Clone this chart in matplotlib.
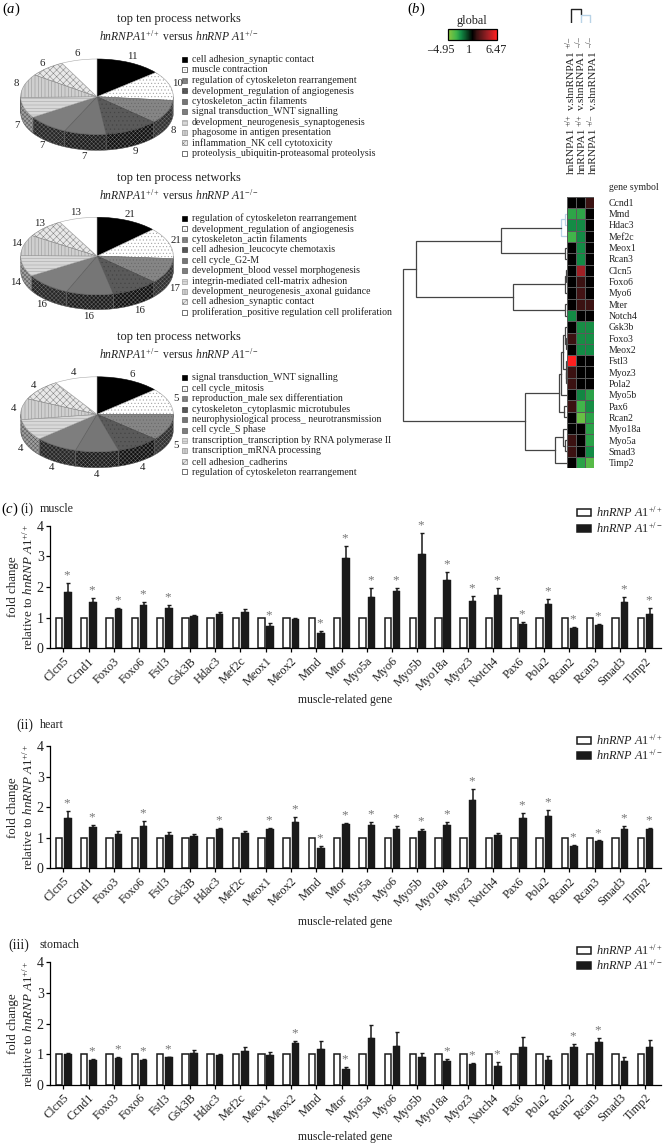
# -*- coding:utf8 -*-
import matplotlib
matplotlib.use("Agg")
import matplotlib.pyplot as plt
import numpy as np
from matplotlib.cm import ScalarMappable
from matplotlib.colors import LinearSegmentedColormap, TwoSlopeNorm
from matplotlib.patches import Polygon, Rectangle

W, H = 666, 1143

# pies
pie_values = [
    [11, 10, 8, 9, 7, 7, 7, 8, 6, 6],
    [21, 21, 17, 16, 16, 16, 14, 14, 13, 13],
    [6, 5, 5, 4, 4, 4, 4, 4, 4, 4],
]
pie_legends = [
    ["cell adhesion_synaptic contact", "muscle contraction",
     "regulation of cytoskeleton rearrangement", "development_regulation of angiogenesis",
     "cytoskeleton_actin filaments", "signal transduction_WNT signalling",
     "development_neurogenesis_synaptogenesis", "phagosome in antigen presentation",
     "inflammation_NK cell cytotoxicity", "proteolysis_ubiquitin-proteasomal proteolysis"],
    ["regulation of cytoskeleton rearrangement", "development_regulation of angiogenesis",
     "cytoskeleton_actin filaments", "cell adhesion_leucocyte chemotaxis",
     "cell cycle_G2-M", "development_blood vessel morphogenesis",
     "integrin-mediated cell-matrix adhesion", "development_neurogenesis_axonal guidance",
     "cell adhesion_synaptic contact", "proliferation_positive regulation cell proliferation"],
    ["signal transduction_WNT signalling", "cell cycle_mitosis",
     "reproduction_male sex differentiation", "cytoskeleton_cytoplasmic microtubules",
     "neurophysiological process_ neurotransmission", "cell cycle_S phase",
     "transcription_transcription by RNA polymerase II", "transcription_mRNA processing",
     "cell adhesion_cadherins", "regulation of cytoskeleton rearrangement"],
]
pie_titles = [
    r"$\it{hnRNPA1}^{+/+}$ versus $\it{hnRNP\ A1}^{+/-}$",
    r"$\it{hnRNPA1}^{+/+}$ versus $\it{hnRNP\ A1}^{-/-}$",
    r"$\it{hnRNPA1}^{+/-}$ versus $\it{hnRNP\ A1}^{-/-}$",
]
pie_colors = ["#000000", "#ffffff", "#858585", "#5a5a5a", "#767676",
              "#7e7e7e", "#d8d8d8", "#cfcfcf", "#e8e8e8", "#ffffff"]
pie_hatches = [None, ".....", ".....", "....", None, None, "-----", "|||||", "xxxxx", None]
pie_edges = ["#000000", "#9a9a9a", "#666666", "#444444", "#5a5a5a",
             "#5a5a5a", "#a0a0a0", "#909090", "#808080", "#aaaaaa"]
side_colors = ["#111111", "#eeeeee", "#303030", "#101010", "#1c1c1c",
               "#262626", "#a0a0a0", "#bbbbbb", "#cccccc", "#eeeeee"]

# heat map
heat_genes = ["Ccnd1", "Mmd", "Hdac3", "Mef2c", "Meox1", "Rcan3", "Clcn5", "Foxo6",
              "Myo6", "Mter", "Notch4", "Gsk3b", "Foxo3", "Meox2", "Fstl3", "Myoz3",
              "Pola2", "Myo5b", "Pax6", "Rcan2", "Myo18a", "Myo5a", "Smad3", "Timp2"]
heat_col1 = [1, -2.5, -1.8, -3, 1, 1, 1, 1, 1, 1, -1.8, 1,
             2, 1, 6.47, 2, 2, 1, 2, 1, 1, 2, 2, 1]
heat_col2 = [1, -2.5, -1.8, -1.8, -1.8, -1.8, 4.5, 2, 2.2, 2, 1, -1.9,
             -1.9, -1.8, 1, 1, 1, -1.7, -3, -4, 1, 1, 1, -2.4]
heat_col3 = [2, 1, 1, 1, 1, 1, 1, 1, 1, 2, 1, -1.9,
             -1.9, -1.8, 1, 1, 1, -2.4, -1.9, -2.4, -2.4, -2.4, -1.8, -3.6]
heat_col_sup = [("+/+", "+/\u2013"), ("+/+", "\u2013/\u2013"), ("+/\u2013", "\u2013/\u2013")]

# row tree: (distance, child, child), a plain number is a row of the heat map
tree_blue = (5.4, (1.5, 1, 2), 3)
tree_a1 = (66, tree_blue, (2, 4, 5))
tree_a2 = (54, (1.5, (1, 6, 7), 8), (1.5, 9, 10))
tree_b1a = (5.5, (3.5, (1.5, 11, (1, 12, 13)), (1.2, 14, (0.8, 15, 16))), 17)
tree_b1 = (7.4, tree_b1a, (2.5, 18, 19))
tree_b2 = (11.7, (3.5, 20, (2, 21, 22)), 23)
tree_root = (164, (150.7, tree_a1, tree_a2), (41.7, tree_b1, tree_b2))

# bars
genes = ["Clcn5", "Ccnd1", "Foxo3", "Foxo6", "Fstl3", "Gsk3B", "Hdac3", "Mef2c",
         "Meox1", "Meox2", "Mmd", "Mtor", "Myo5a", "Myo6", "Myo5b", "Myo18a",
         "Myoz3", "Notch4", "Pax6", "Pola2", "Rcan2", "Rcan3", "Smad3", "Timp2"]
control = [1.0] * 24

muscle_val = [1.85, 1.5, 1.28, 1.4, 1.33, 1.05, 1.12, 1.18, 0.72, 0.95, 0.5, 2.93,
              1.68, 1.86, 3.07, 2.23, 1.55, 1.74, 0.78, 1.43, 0.67, 0.75, 1.52, 1.12]
muscle_top = [2.12, 1.65, 1.33, 1.5, 1.42, 1.1, 1.18, 1.28, 0.82, 1.0, 0.58, 3.35,
              1.96, 1.96, 3.75, 2.5, 1.7, 1.98, 0.87, 1.6, 0.7, 0.78, 1.66, 1.3]
muscle_star = [1, 1, 1, 1, 1, 0, 0, 0, 1, 0, 1, 1, 1, 1, 1, 1, 1, 1, 1, 1, 1, 1, 1, 1]

heart_val = [1.66, 1.34, 1.12, 1.39, 1.08, 1.05, 1.27, 1.15, 1.29, 1.52, 0.65, 1.46,
             1.43, 1.28, 1.22, 1.41, 2.25, 1.08, 1.63, 1.7, 0.74, 0.89, 1.29, 1.3]
heart_top = [1.87, 1.41, 1.22, 1.55, 1.2, 1.13, 1.32, 1.23, 1.32, 1.67, 0.74, 1.49,
             1.51, 1.37, 1.29, 1.53, 2.6, 1.15, 1.82, 1.92, 0.76, 0.91, 1.37, 1.32]
heart_star = [1, 1, 0, 1, 0, 0, 1, 0, 1, 1, 1, 1, 1, 1, 1, 1, 1, 0, 1, 1, 1, 1, 1, 1]

stomach_val = [1.02, 0.8, 0.87, 0.8, 0.9, 1.05, 0.99, 1.12, 0.98, 1.36, 1.16, 0.52,
               1.52, 1.26, 0.91, 0.78, 0.68, 0.62, 1.24, 0.82, 1.25, 1.4, 0.79, 1.24]
stomach_top = [1.04, 0.85, 0.91, 0.84, 0.92, 1.14, 1.01, 1.23, 1.09, 1.43, 1.43, 0.6,
               1.95, 1.74, 1.03, 0.86, 0.73, 0.76, 1.58, 0.93, 1.34, 1.54, 0.9, 1.47]
stomach_star = [0, 1, 1, 1, 1, 0, 0, 0, 0, 1, 0, 1, 0, 0, 0, 1, 1, 1, 0, 0, 1, 1, 0, 0]

bar_yticks = [0, 1, 2, 3, 4]
bar_ylabel = r"relative to $\it{hnRNP\ A1}^{+/+}$"
legend_wt = r"$\it{hnRNP\ A1}^{+/+}$"
legend_het = r"$\it{hnRNP\ A1}^{+/-}$"


def px_axes(fig, x0, y0, x1, y1):
    # box given in picture pixels, y going down
    return fig.add_axes([x0 / W, 1 - y1 / H, (x1 - x0) / W, (y1 - y0) / H])


def draw_pie(fig, ov, cx, cy, rx, ry, depth, values, title_y, title, legend, leg_y):
    d = depth / ry
    ax = px_axes(fig, cx - rx, cy - ry, cx + rx, cy + ry + depth)
    wedges = ax.pie(values, startangle=90, counterclock=False, colors=pie_colors, hatch=pie_hatches,
                    wedgeprops=dict(linewidth=0.4), radius=1)[0]
    for w, col in zip(wedges, pie_edges):
        w.set_edgecolor(col)
        w.set_clip_on(False)
    ax.set_aspect("auto")
    ax.set_xlim(-1, 1)
    ax.set_ylim(-1 - d, 1)

    total = sum(values)
    t0 = 0.0
    for i, v in enumerate(values):
        t1 = t0 + 360.0 * v / total
        # side wall, only the part on the lower half of the ellipse
        lo, hi = max(t0, 90), min(t1, 270)
        if hi > lo:
            t = np.radians(np.linspace(lo, hi, 40))
            xs, ys = np.sin(t), np.cos(t)
            pts = np.r_[np.c_[xs, ys], np.c_[xs[::-1], ys[::-1] - d]]
            hatch_col = "#6a6a6a" if i < 6 else "#555555"
            ax.add_patch(Polygon(pts, closed=True, facecolor=side_colors[i], edgecolor=hatch_col,
                                 hatch="xxxxxxxx", linewidth=0.3, zorder=0.5, clip_on=False))
        mid = np.radians((t0 + t1) / 2)
        lx = cx + rx * 1.1 * np.sin(mid)
        ly = cy - ry * 1.17 * np.cos(mid)
        if np.cos(mid) < 0:
            ly += depth
        ov.text(lx, ly, str(v), ha="center", va="center", fontsize=7.8, color="#222222")
        t0 = t1

    ov.text(178.5, title_y, "top ten process networks", ha="center", va="center", fontsize=9,
            color="#222222")
    ov.text(178.5, title_y + 17, title, ha="center", va="center", fontsize=8.4, color="#222222")
    for i, name in enumerate(legend):
        y = leg_y + i * 10.46
        ov.add_patch(Rectangle((181.7, y - 2.5), 5, 5, facecolor=pie_colors[i], edgecolor=pie_edges[i],
                               hatch=pie_hatches[i], linewidth=0.5))
        if pie_colors[i] == "#ffffff":
            ov.add_patch(Rectangle((181.7, y - 2.5), 5, 5, fill=False, edgecolor="#555555", linewidth=0.5))
        ov.text(192, y, name, ha="left", va="center", fontsize=7.1, color="#222222")


def draw_tree(ax, node, color="#444444"):
    # returns (distance, row) of this node
    if not isinstance(node, tuple):
        return 0.0, float(node)
    dist, left, right = node
    if node is tree_blue:
        color = "#b9d3e6"
    d1, y1 = draw_tree(ax, left, color)
    d2, y2 = draw_tree(ax, right, color)
    ax.plot([d1, dist, dist, d2], [y1, y1, y2, y2], color=color, lw=0.9, solid_joinstyle="miter")
    return dist, (y1 + y2) / 2


def draw_bars(fig, ov, y_top, y_bottom, val, top, star, name, name_y, lab_x, xlab_y,
              leg_y1, leg_y2):
    ax = px_axes(fig, 50, y_top, 661, y_bottom)
    pitch = 25.3
    x = np.arange(len(genes))
    val = np.array(val)
    top = np.array(top)
    ax.bar(x - 0.17, control, 0.26, color="white", edgecolor="#1a1a1a", linewidth=1.1)
    ax.bar(x + 0.18, val, 0.3, color="#1a1a1a", edgecolor="#1a1a1a", linewidth=0.3)
    ax.errorbar(x + 0.18, val, yerr=[np.zeros(len(x)), top - val], fmt="none", ecolor="#1a1a1a",
                elinewidth=1.1, capsize=1.5, capthick=1)
    for i in x:
        if star[i]:
            ax.text(i + 0.14, top[i] + 0.25, "*", ha="center", va="center", fontsize=9.5,
                    color="#777777")
    ax.set_xlim((50 - 63.2) / pitch, (661 - 63.2) / pitch)
    ax.set_ylim(0, 4)
    ax.set_xticks(x)
    ax.set_xticklabels(genes, rotation=45, ha="right", rotation_mode="anchor", fontsize=8.8,
                       color="#222222")
    ax.set_yticks(bar_yticks)
    ax.tick_params(axis="y", labelsize=10, length=3, width=0.9, pad=1.5, labelcolor="#222222")
    ax.tick_params(axis="x", length=3, width=0.9, pad=2)
    ax.patch.set_alpha(0)
    for s in ["top", "right"]:
        ax.spines[s].set_visible(False)
    for s in ["left", "bottom"]:
        ax.spines[s].set_linewidth(0.9)

    ymid = (y_top + y_bottom) / 2
    ov.text(13, ymid, "fold change", rotation=90, ha="center", va="center", fontsize=9.4,
            color="#222222")
    ov.text(28, ymid, bar_ylabel, rotation=90, ha="center", va="center", fontsize=9.4,
            color="#222222")
    ov.text(lab_x, name_y, name[0], ha="left", va="center", fontsize=10, color="#222222")
    ov.text(40, name_y, name[1], ha="left", va="center", fontsize=8.6, color="#222222")
    ov.text(345, xlab_y, "muscle-related gene", ha="center", va="center", fontsize=8.5,
            color="#222222")
    ov.add_patch(Rectangle((576.5, leg_y1 - 3.5), 14, 7, facecolor="white", edgecolor="#1a1a1a",
                           linewidth=1.1))
    ov.add_patch(Rectangle((576.5, leg_y2 - 3.5), 14, 7, facecolor="#1a1a1a", edgecolor="#1a1a1a",
                           linewidth=1.1))
    ov.text(596, leg_y1, legend_wt, ha="left", va="center", fontsize=8.8, color="#222222")
    ov.text(596, leg_y2, legend_het, ha="left", va="center", fontsize=8.8, color="#222222")


def main():
    plt.rcParams["font.family"] = ["Liberation Serif", "DejaVu Serif"]
    plt.rcParams["mathtext.fontset"] = "custom"
    plt.rcParams["mathtext.rm"] = "Liberation Serif"
    plt.rcParams["mathtext.it"] = "Liberation Serif:italic"
    plt.rcParams["mathtext.bf"] = "Liberation Serif:bold"
    plt.rcParams["hatch.linewidth"] = 0.35

    fig = plt.figure(figsize=(W / 100, H / 100), dpi=100, facecolor="white")
    # whole picture in pixels, for the loose text
    ov = fig.add_axes([0, 0, 1, 1], zorder=5)
    ov.set_xlim(0, W)
    ov.set_ylim(H, 0)
    ov.axis("off")

    ov.text(2, 9.5, r"($\it{a}$)", ha="left", va="center", fontsize=10.5)
    ov.text(407, 9, r"($\it{b}$)", ha="left", va="center", fontsize=10.5)
    ov.text(1, 509, r"($\it{c}$)", ha="left", va="center", fontsize=10.5)

    draw_pie(fig, ov, 97, 96.7, 76.3, 37.7, 16, pie_values[0], 19, pie_titles[0], pie_legends[0], 59.3)
    draw_pie(fig, ov, 97, 256, 76.3, 38.7, 15, pie_values[1], 178.3, pie_titles[1], pie_legends[1], 218.3)
    draw_pie(fig, ov, 97, 414.3, 76.3, 37.5, 16, pie_values[2], 337, pie_titles[2], pie_legends[2], 377.7)

    # heat map
    nodes = [(0.0, "#8cc63f"), (0.164, "#40b54a"), (0.265, "#128a45"), (0.38, "#0a4a24"),
             (0.5, "#000000"), (0.591, "#3a1212"), (0.82, "#a02025"), (1.0, "#ff2020")]
    cmap = LinearSegmentedColormap.from_list("global", nodes)
    norm = TwoSlopeNorm(vmin=-4.95, vcenter=1, vmax=6.47)

    heat = np.array([heat_col1, heat_col2, heat_col3]).T
    ax = px_axes(fig, 566.7, 196.7, 594.3, 468.3)
    ax.pcolormesh(np.arange(4), np.arange(25), heat, cmap=cmap, norm=norm,
                  edgecolors="#5a5a5a", linewidth=0.5)
    ax.set_ylim(24, 0)
    ax.set_xticks([])
    ax.yaxis.tick_right()
    ax.set_yticks(np.arange(24) + 0.5)
    ax.set_yticklabels(heat_genes, fontsize=7, color="#222222")
    ax.tick_params(axis="y", length=0, pad=10.2)
    for s in ax.spines.values():
        s.set_visible(False)
    ov.text(608.7, 188, "gene symbol", ha="left", va="center", fontsize=7, color="#222222")

    # row tree shares the rows of the heat map
    tr = px_axes(fig, 400, 196.7, 566.7, 468.3)
    # plain row numbers are row centres
    draw_tree(tr, tree_root)
    tr.set_xlim(166.7, 0)
    tr.set_ylim(23.5, -0.5)
    tr.axis("off")

    # column tree
    ct = px_axes(fig, 566.7, 5, 594.3, 22.7)
    ct.plot([0.5, 0.5, 1.5, 1.5], [0, 13.4, 13.4, 8.6], color="#222222", lw=1.0)
    ct.plot([1.5, 1.5, 2.5, 2.5], [0, 8, 8, 0], color="#b9d3e6", lw=1.0)
    ct.set_xlim(0, 3)
    ct.set_ylim(0, 17.7)
    ct.axis("off")
    # column names set piece by piece, so the raised parts stay clear of the next column
    for i, sup in enumerate(heat_col_sup):
        x = 571 + 11 * i
        ov.text(x, 174.5, "hnRNPA1", rotation=90, ha="center", va="bottom", fontsize=8.2, color="#222222")
        ov.text(x - 2.5, 125.5, sup[0], rotation=90, ha="center", va="bottom", fontsize=6, color="#222222")
        ov.text(x, 110.5, "v.shnRNPA1", rotation=90, ha="center", va="bottom", fontsize=8.2, color="#222222")
        ov.text(x - 2.5, 47.5, sup[1], rotation=90, ha="center", va="bottom", fontsize=6, color="#222222")

    # colour key
    cax = px_axes(fig, 448.3, 29, 496.7, 40)
    cb = fig.colorbar(ScalarMappable(norm=norm, cmap=cmap), cax=cax, orientation="horizontal")
    cb.set_ticks([])
    cb.minorticks_off()
    cb.outline.set_linewidth(0.9)
    ov.text(472, 20.7, "global", ha="center", va="center", fontsize=8.8, color="#222222")
    ov.text(441, 50, "\u20134.95", ha="center", va="center", fontsize=8.8, color="#222222")
    ov.text(469, 50, "1", ha="center", va="center", fontsize=8.8, color="#222222")
    ov.text(496, 50, "6.47", ha="center", va="center", fontsize=8.8, color="#222222")

    draw_bars(fig, ov, 525.7, 648.3, muscle_val, muscle_top, muscle_star, ("(i)", "muscle"),
              509, 20, 700.5, 512, 528)
    draw_bars(fig, ov, 746, 868.3, heart_val, heart_top, heart_star, ("(ii)", "heart"),
              725, 16, 922, 740, 755.7)
    draw_bars(fig, ov, 962.3, 1085, stomach_val, stomach_top, stomach_star, ("(iii)", "stomach"),
              945, 8, 1137, 950, 965)

    fig.savefig("out.png", dpi=100)


if __name__ == '__main__':
    main()
